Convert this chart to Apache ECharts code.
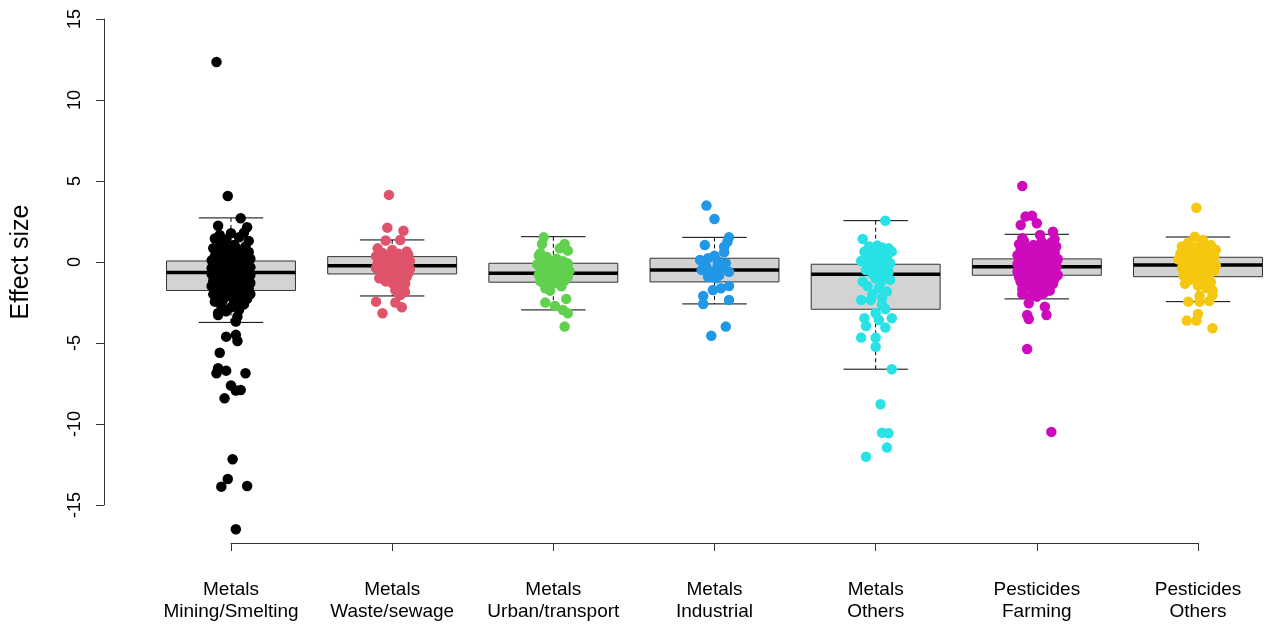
<!DOCTYPE html>
<html>
<head>
<meta charset="utf-8">
<script src="https://cdn.jsdelivr.net/npm/echarts@6/dist/echarts.min.js"></script>
<style>html,body{margin:0;padding:0;background:#fff;}#chart{width:1271px;height:628px;}</style>
</head>
<body>
<div id="chart"></div>
<script>
// Categories (two-line labels)
const categories = [
  'Metals\nMining/Smelting',
  'Metals\nWaste/sewage',
  'Metals\nUrban/transport',
  'Metals\nIndustrial',
  'Metals\nOthers',
  'Pesticides\nFarming',
  'Pesticides\nOthers'
];
const colors = ['#000000', '#DF536B', '#61D04F', '#2297E6', '#28E2E5', '#CD0BBC', '#F5C710'];
const yTicks = [-15, -10, -5, 0, 5, 10, 15];

// Box statistics: [lower whisker, Q1, median, Q3, upper whisker]
const boxStats = [
  [-3.73, -1.76, -0.65, 0.06, 2.72],
  [-2.10, -0.74, -0.23, 0.33, 1.36],
  [-2.96, -1.25, -0.70, -0.08, 1.56],
  [-2.59, -1.23, -0.49, 0.23, 1.52],
  [-6.62, -2.92, -0.76, -0.14, 2.55],
  [-2.28, -0.82, -0.29, 0.19, 1.71],
  [-2.45, -0.91, -0.19, 0.29, 1.54]
];

// Jittered points: [horizontal jitter (category units), effect size]
const miningSmelting = [
  [-0.09,12.35],[-0.02,4.07],[0.06,2.7],[-0.08,2.24],[0.10,2.14],[0.00,1.77],[-0.07,1.67],[0.08,1.81],
  [-0.08,-3.27],[0.03,-3.68],[0.04,-3.37],[-0.03,-4.61],[0.03,-4.5],[0.04,-4.88],[-0.07,-5.6],[-0.08,-6.56],
  [-0.03,-6.71],[0.09,-6.87],[-0.09,-6.87],[0.00,-7.63],[0.03,-7.94],[0.06,-7.9],[-0.04,-8.42],[0.01,-12.18],
  [-0.02,-13.4],[-0.06,-13.87],[0.10,-13.83],[0.03,-16.5],
  [-0.10,1.45],[-0.03,1.38],[0.05,1.52],[0.11,1.3],[-0.06,1.1],[0.02,1.05],[0.09,0.95],[-0.11,0.85],[-0.02,0.8],
  [0.06,0.7],[0.11,0.62],[-0.08,0.55],[0.00,0.5],[0.04,0.42],
  [-0.10,0.35],[-0.05,0.3],[0.08,0.28],[0.12,0.2],[-0.12,0.1],[-0.02,0.12],[0.03,0.05],[0.07,-0.02],[-0.07,-0.05],
  [0.10,-0.1],[-0.10,-0.15],[0.01,-0.2],[0.05,-0.25],[-0.04,-0.3],[0.12,-0.32],[-0.12,-0.38],[0.08,-0.42],[-0.07,-0.45],[0.00,-0.5],
  [0.04,-0.55],[-0.10,-0.6],[0.10,-0.63],[-0.03,-0.68],[0.06,-0.72],[-0.12,-0.75],[0.12,-0.8],[0.02,-0.82],[-0.06,-0.88],
  [0.08,-0.92],[-0.09,-0.98],[-0.01,-1.0],[0.11,-1.05],[0.04,-1.1],[-0.11,-1.15],[-0.04,-1.2],[0.07,-1.25],[0.12,-1.3],
  [-0.08,-1.35],[0.01,-1.4],[0.09,-1.45],[-0.12,-1.48],
  [-0.05,-1.55],[0.05,-1.6],[0.11,-1.65],[-0.10,-1.7],[-0.01,-1.75],[0.08,-1.8],[-0.07,-1.88],[0.03,-1.92],[0.12,-1.98],
  [-0.11,-2.0],[-0.03,-2.05],[0.06,-2.1],[-0.08,-2.18],[0.01,-2.22],[0.10,-2.28],[-0.05,-2.35],[0.05,-2.4],[-0.10,-2.45],
  [0.02,-2.55],[0.08,-2.62],[-0.06,-2.7],[0.00,-2.8],[0.05,-2.95],[-0.03,-3.05],[-0.08,-3.15],
  [-0.05,0.7],[0.03,0.9],[-0.02,-0.1],[0.06,-0.4],[-0.06,-1.6],[0.02,-1.3],[-0.09,-0.3],[0.09,-1.2]
];
const wasteSewage = [
  [-0.02,4.14],[-0.03,2.12],[0.07,1.93],[-0.04,1.32],[0.05,1.36],[-0.09,0.84],[0.00,0.74],[0.09,0.64],
  [-0.08,-1.0],[0.00,-1.3],[0.07,-1.6],[0.05,-2.04],[-0.10,-2.45],[0.02,-2.5],[0.06,-2.8],[-0.06,-3.17],
  [-0.06,0.55],[0.04,0.5],[0.10,0.45],[-0.10,0.35],[-0.02,0.3],[0.07,0.25],[-0.07,0.15],[0.02,0.1],[0.11,0.05],
  [-0.04,0.0],[0.05,-0.05],[-0.09,-0.1],[0.09,-0.15],[0.00,-0.2],[-0.05,-0.28],[0.06,-0.32],[-0.10,-0.38],[0.03,-0.42],
  [0.11,-0.45],[-0.03,-0.5],[0.08,-0.55],[-0.07,-0.6],[0.01,-0.65],[0.10,-0.7],[-0.05,-0.75],[0.05,-0.8],[-0.02,-0.88],
  [0.09,-0.92],[0.03,-1.1],[-0.04,-1.2],[0.08,-1.35],[0.05,-1.5],[0.02,-1.75],[0.08,-1.85]
];
const urbanTransport = [
  [-0.06,1.52],[-0.07,1.11],[0.07,1.11],[0.04,0.84],[0.09,0.7],[-0.08,0.54],[-0.05,-1.62],[-0.02,-1.77],[0.08,-2.28],
  [-0.05,-2.51],[0.01,-2.72],[0.06,-2.96],[0.09,-3.17],[0.07,-3.99],
  [-0.09,0.4],[-0.04,0.3],[0.02,0.2],[-0.07,0.1],[0.06,0.05],[-0.02,0.0],[0.09,-0.1],[-0.10,-0.15],[0.03,-0.2],
  [-0.05,-0.3],[0.07,-0.35],[0.00,-0.45],[-0.08,-0.5],[0.10,-0.55],[0.04,-0.6],[-0.03,-0.7],[0.06,-0.75],[-0.09,-0.8],
  [0.01,-0.85],[0.09,-0.9],[-0.06,-0.95],[0.04,-1.0],[-0.01,-1.1],[0.07,-1.15],[-0.08,-1.2],[0.02,-1.3],[-0.04,-1.4],[0.05,-1.5]
];
const industrial = [
  [-0.05,3.48],[0.00,2.65],[0.09,1.52],[0.08,1.25],[-0.06,1.05],[0.06,0.94],[0.06,0.6],[0.00,0.39],[-0.09,0.12],
  [-0.04,0.23],[0.02,0.06],[0.07,-0.08],[-0.08,-0.49],[-0.05,-0.33],[-0.01,-0.6],[0.09,-0.6],[-0.04,-0.91],[0.03,-0.8],
  [-0.01,-1.73],[0.04,-1.62],[0.09,-1.48],[-0.07,-2.1],[-0.07,-2.59],[0.09,-2.35],[0.07,-3.99],[-0.02,-4.55],
  [0.02,-0.19],[0.05,-0.29],[-0.06,-0.15],[0.01,-1.0]
];
const metalsOthers = [
  [0.06,2.55],[-0.08,1.42],[0.01,1.01],[0.08,0.84],[-0.07,0.64],[0.02,0.54],[0.10,0.64],[-0.09,0.06],[-0.03,0.23],
  [0.05,0.12],[0.09,-0.08],[-0.01,-0.29],[0.02,-0.49],[0.08,-0.6],[-0.08,-1.21],[0.00,-1.0],[0.09,-1.1],[0.02,-1.62],
  [0.07,-1.83],[-0.09,-2.35],[-0.03,-2.35],[0.04,-2.24],[0.04,-2.65],[0.00,-3.17],[-0.07,-3.48],[0.02,-3.58],[0.10,-3.48],
  [-0.06,-3.95],[0.06,-4.05],[-0.09,-4.67],[0.00,-4.67],[0.00,-5.23],[0.10,-6.62],[0.03,-8.78],[0.04,-10.54],[0.08,-10.58],
  [0.07,-11.46],[-0.06,-12.02],
  [-0.04,0.95],[0.04,0.9],[-0.06,0.35],[0.03,0.4],[0.07,0.3],[-0.01,0.7],[0.05,0.65],[-0.04,-0.1],[0.00,0.0],[0.03,-0.2],
  [-0.06,-0.5],[0.06,-0.35],[-0.02,-0.75],[0.05,-0.9],[-0.05,-1.5],[0.03,-1.3],[-0.02,-2.0],[0.06,-2.9]
];
const farming = [
  [-0.09,4.69],[-0.07,2.8],[-0.03,2.86],[-0.10,2.28],[0.00,2.39],[0.10,1.87],[0.02,1.67],[-0.09,1.46],[0.11,1.4],
  [-0.09,-1.98],[-0.04,-2.14],[0.00,-2.14],[-0.05,-2.55],[0.05,-2.76],[-0.06,-3.27],[0.06,-3.27],[-0.05,-3.52],[0.08,-1.77],
  [-0.06,-5.37],[0.09,-10.49],
  [-0.08,1.3],[0.03,1.25],[0.09,1.2],[-0.11,1.1],[-0.02,1.05],[0.06,1.0],[0.12,0.95],[-0.06,0.9],[0.01,0.85],[0.08,0.8],
  [-0.10,0.75],[-0.03,0.7],[0.04,0.65],[0.11,0.6],[-0.07,0.55],[0.00,0.5],
  [0.07,0.45],[-0.12,0.42],[-0.04,0.4],[0.03,0.35],[0.10,0.32],[-0.09,0.28],[-0.01,0.25],[0.06,0.2],[0.13,0.18],[-0.06,0.15],
  [0.02,0.1],[0.09,0.08],[-0.11,0.05],[-0.03,0.02],[0.05,0.0],[0.12,-0.03],[-0.08,-0.05],[0.00,-0.08],[0.07,-0.1],[-0.12,-0.12],
  [-0.05,-0.15],[0.03,-0.18],[0.10,-0.2],[-0.09,-0.22],[-0.02,-0.25],[0.05,-0.28],[0.12,-0.3],[-0.07,-0.32],[0.01,-0.35],
  [0.08,-0.38],[-0.11,-0.4],[-0.04,-0.42],[0.04,-0.45],[0.11,-0.48],[-0.08,-0.5],
  [0.00,-0.55],[0.07,-0.58],[-0.12,-0.6],[-0.05,-0.62],[0.03,-0.65],[0.10,-0.68],[-0.09,-0.72],[-0.01,-0.75],[0.06,-0.78],
  [0.13,-0.8],[-0.06,-0.85],[0.02,-0.88],[0.09,-0.9],[-0.11,-0.95],[-0.03,-0.98],[0.05,-1.0],[0.11,-1.05],[-0.08,-1.1],
  [0.00,-1.12],[0.07,-1.18],[-0.10,-1.22],[-0.04,-1.25],[0.04,-1.3],[0.10,-1.35],[-0.07,-1.4],[0.01,-1.45],[0.08,-1.5],
  [-0.05,-1.55],[0.03,-1.6],[-0.09,-1.65],[0.06,-1.7],[-0.02,-1.85],[0.04,-1.95]
];
const pesticidesOthers = [
  [-0.01,3.35],[-0.02,1.56],[0.03,1.36],[0.06,-1.36],[0.01,-2.1],[0.09,-2.04],[-0.06,-2.45],[0.01,-2.45],[0.07,-2.41],
  [0.00,-3.21],[-0.07,-3.62],[-0.01,-3.62],[0.09,-4.09],
  [-0.06,1.2],[0.02,1.15],[0.08,1.05],[-0.10,0.95],[-0.02,0.9],[0.05,0.85],[0.11,0.75],[-0.07,0.7],[0.00,0.65],[0.07,0.55],
  [-0.11,0.5],[-0.04,0.45],[0.03,0.4],[0.10,0.35],[-0.08,0.3],[-0.01,0.25],[0.06,0.2],[-0.12,0.15],[-0.05,0.1],[0.02,0.05],
  [0.09,0.0],[-0.09,-0.05],[-0.02,-0.1],[0.05,-0.15],[0.11,-0.2],[-0.06,-0.25],[0.01,-0.3],[0.08,-0.35],[-0.10,-0.4],
  [-0.03,-0.45],[0.04,-0.5],[0.10,-0.55],[-0.07,-0.6],[0.00,-0.7],[0.07,-0.75],[-0.09,-0.85],[-0.02,-0.9],[0.05,-1.0],
  [-0.05,-1.1],[0.02,-1.2],[0.08,-1.25],[-0.08,-1.35],[0.00,-1.45],[0.05,-1.6],[0.09,-1.75]
];
const pointGroups = [miningSmelting, wasteSewage, urbanTransport, industrial, metalsOthers, farming, pesticidesOthers];

const FONT = '"Liberation Sans", Arial, Helvetica, sans-serif';

function renderBox(params, api) {
  const i = api.value(0);
  const lo = api.coord([i, api.value(1)]);
  const q1 = api.coord([i, api.value(2)]);
  const md = api.coord([i, api.value(3)]);
  const q3 = api.coord([i, api.value(4)]);
  const hi = api.coord([i, api.value(5)]);
  const bw = api.size([0.8, 0])[0];
  const cw = api.size([0.4, 0])[0];
  const x = lo[0];
  const dash = { stroke: '#000', lineWidth: 1, lineDash: [4, 3] };
  const solid = { stroke: '#000', lineWidth: 1 };
  return {
    type: 'group',
    children: [
      { type: 'line', shape: { x1: x, y1: hi[1], x2: x, y2: q3[1] }, style: dash },
      { type: 'line', shape: { x1: x, y1: q1[1], x2: x, y2: lo[1] }, style: dash },
      { type: 'line', shape: { x1: x - cw / 2, y1: hi[1], x2: x + cw / 2, y2: hi[1] }, style: solid },
      { type: 'line', shape: { x1: x - cw / 2, y1: lo[1], x2: x + cw / 2, y2: lo[1] }, style: solid },
      { type: 'rect', shape: { x: x - bw / 2, y: q3[1], width: bw, height: q1[1] - q3[1] },
        style: { fill: '#D3D3D3', stroke: '#333', lineWidth: 1 } },
      { type: 'line', shape: { x1: x - bw / 2, y1: md[1], x2: x + bw / 2, y2: md[1] },
        style: { stroke: '#000', lineWidth: 3.5 } }
    ]
  };
}

const series = [{
  type: 'custom',
  xAxisIndex: 0, yAxisIndex: 0,
  clip: false,
  z: 2,
  renderItem: renderBox,
  encode: { x: 0, y: [1, 2, 3, 4, 5] },
  data: boxStats.map((s, i) => [i].concat(s))
}];
pointGroups.forEach((pts, i) => {
  series.push({
    type: 'scatter',
    xAxisIndex: 0, yAxisIndex: 0,
    clip: false,
    z: 3,
    symbol: 'circle',
    symbolSize: 10.5,
    itemStyle: { color: colors[i], opacity: 1 },
    silent: true,
    data: pts.map(p => [i + p[0], p[1]])
  });
});

const chart = echarts.init(document.getElementById('chart'), null, { renderer: 'canvas' });
chart.setOption({
  animation: false,
  backgroundColor: '#ffffff',
  grid: [
    { left: 231, right: 73, top: 19, bottom: 85 },
    { left: 104, width: 10, top: 19, bottom: 123 }
  ],
  xAxis: [
    {
      gridIndex: 0, type: 'value', min: 0, max: categories.length - 1, interval: 1,
      position: 'bottom',
      axisLine: { show: true, onZero: false, lineStyle: { color: '#333', width: 1 } },
      axisTick: { show: true, length: 8, lineStyle: { color: '#333' } },
      splitLine: { show: false },
      axisLabel: {
        formatter: v => categories[v] || '',
        color: '#000', fontFamily: FONT, fontSize: 19, lineHeight: 22, margin: 36
      }
    },
    { gridIndex: 1, type: 'value', show: false }
  ],
  yAxis: [
    { gridIndex: 0, type: 'value', min: -17.35, max: 15, show: false },
    {
      gridIndex: 1, type: 'value', min: yTicks[0], max: yTicks[yTicks.length - 1], interval: 5,
      axisLine: { show: true, onZero: false, lineStyle: { color: '#333', width: 1 } },
      axisTick: { show: true, length: 8, lineStyle: { color: '#333' } },
      splitLine: { show: false },
      axisLabel: { rotate: 90, color: '#000', fontFamily: FONT, fontSize: 18, margin: 20 },
      name: 'Effect size',
      nameLocation: 'middle',
      nameRotate: 90,
      nameGap: 70,
      nameTextStyle: { color: '#000', fontFamily: FONT, fontSize: 25 }
    }
  ],
  series: series
});
</script>
</body>
</html>
